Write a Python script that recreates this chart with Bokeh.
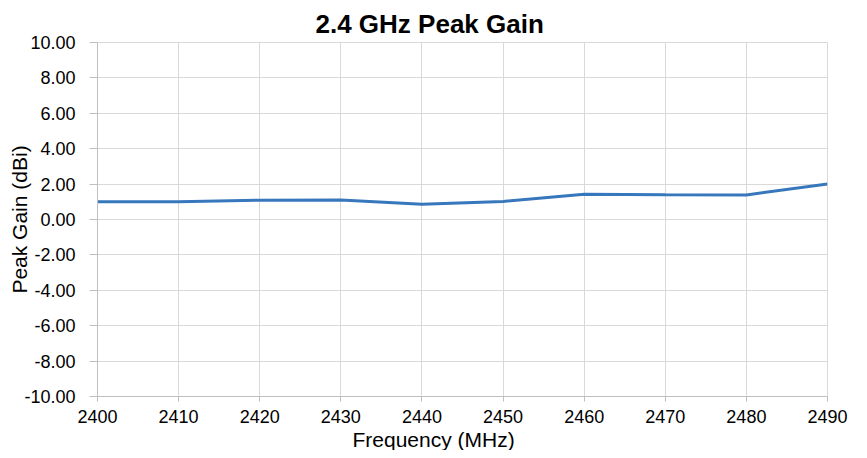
from bokeh.plotting import figure
from bokeh.models import FixedTicker, PrintfTickFormatter, Range1d, Title
from bokeh.embed import file_html
from bokeh.resources import INLINE

freq_mhz = [2400, 2410, 2420, 2430, 2440, 2450, 2460, 2470, 2480, 2490]
peak_gain_dbi = [1.00, 1.00, 1.09, 1.10, 0.86, 1.02, 1.43, 1.40, 1.39, 2.00]
x_ticks = [2400, 2410, 2420, 2430, 2440, 2450, 2460, 2470, 2480, 2490]
y_ticks = [-10, -8, -6, -4, -2, 0, 2, 4, 6, 8, 10]

FONT = "Liberation Sans"

p = figure(width=859, height=450, output_backend="svg", toolbar_location=None,
           x_range=Range1d(2400, 2490), y_range=Range1d(-10, 10),
           min_border_left=97, min_border_right=32, min_border_top=42, min_border_bottom=54)

p.title.text = "2.4 GHz Peak Gain"
p.title.align = "left"
p.title.offset = 218
p.title.text_font = FONT
p.title.text_font_size = "26px"
p.title.text_font_style = "bold"
p.title.text_color = "#000000"
p.title.standoff = 8

p.line(freq_mhz, peak_gain_dbi, line_color="#3777BC", line_width=3)

p.xaxis.ticker = FixedTicker(ticks=x_ticks)
p.yaxis.ticker = FixedTicker(ticks=y_ticks)
p.yaxis.formatter = PrintfTickFormatter(format="%.2f")
p.yaxis.axis_label = "Peak Gain (dBi)"

for ax in (p.xaxis, p.yaxis):
    ax.axis_label_text_font = FONT
    ax.axis_label_text_font_size = "21px"
    ax.axis_label_text_font_style = "normal"
    ax.axis_label_text_color = "#000000"
    ax.major_label_text_font = FONT
    ax.major_label_text_font_size = "18px"
    ax.major_label_text_color = "#000000"
    ax.axis_line_color = "#BFBFBF"
    ax.major_tick_line_color = "#BFBFBF"
    ax.major_tick_in = 0
    ax.minor_tick_line_color = None

p.yaxis.major_tick_out = 8
p.xaxis.major_tick_out = 5
p.yaxis.major_label_standoff = 14
p.yaxis.axis_label_standoff = -10
p.xaxis.major_label_standoff = 8

xlabel = Title(text="Frequency (MHz)", align="left", offset=255, standoff=0,
               text_font=FONT, text_font_size="21px", text_font_style="normal",
               text_color="#000000")
p.add_layout(xlabel, "below")

p.xgrid.grid_line_color = "#D9D9D9"
p.ygrid.grid_line_color = "#D9D9D9"
p.outline_line_color = "#D9D9D9"

open("out.html", "w").write(file_html(p, INLINE))
